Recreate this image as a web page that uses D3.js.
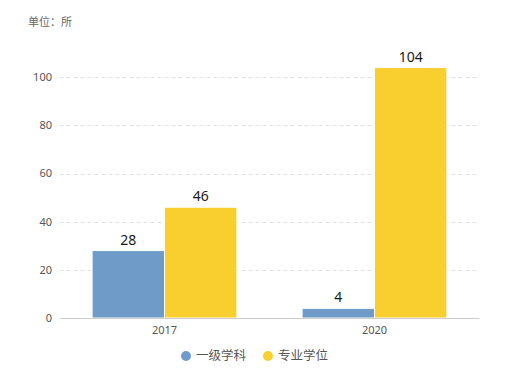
<!DOCTYPE html>
<html><head><meta charset="utf-8">
<script src="https://cdn.jsdelivr.net/npm/d3@7"></script>
<style>body{margin:0;background:#fff;}svg{display:block;font-family:"Noto Sans","Noto Sans CJK SC",sans-serif;}</style>
</head><body>
<svg id="c" width="511" height="383"></svg>
<script>
const categories = ["2017", "2020"];
const seriesNames = ["一级学科", "专业学位"];
const firstLevel = [28, 4];
const professional = [46, 104];
const yTicks = [0, 20, 40, 60, 80, 100];
const unitLabel = "单位：所";
const colors = ["#6f9bc8", "#f9cf2f"];

(function () {
const svg = d3.select("#c");
const mLeft = 59.5, mRight = 479.5, mTop = 29, mBottom = 318;
const x = d3.scaleBand().domain(categories).range([mLeft, mRight]).paddingInner(0).paddingOuter(0);
const y = d3.scaleLinear().domain([0, 120]).range([mBottom, mTop]);
const x1 = d3.scaleBand().domain(seriesNames).range([0, x.bandwidth()]).paddingInner(0.0).paddingOuter(0.45);

svg.append("text").attr("x", 28).attr("y", 26).attr("font-size", 11).attr("fill", "#666").text(unitLabel);

// grid
svg.append("g").selectAll("line").data(yTicks.filter(d => d > 0)).join("line")
  .attr("x1", mLeft).attr("x2", mRight)
  .attr("y1", d => Math.round(y(d)) + 0.5).attr("y2", d => Math.round(y(d)) + 0.5)
  .attr("stroke", "#e3e3e3").attr("stroke-dasharray", "4,3");

// y labels
svg.append("g").selectAll("text").data(yTicks).join("text")
  .attr("x", 52).attr("y", d => y(d)).attr("dy", "0.35em")
  .attr("text-anchor", "end").attr("font-size", 11).attr("fill", "#555").text(d => d);

const data = categories.map((c, i) => ({c, vals: [firstLevel[i], professional[i]]}));
const groups = svg.append("g").selectAll("g").data(data).join("g")
  .attr("transform", d => `translate(${x(d.c)},0)`);
groups.selectAll("rect").data(d => d.vals.map((v, j) => ({v, j}))).join("rect")
  .attr("x", d => x1(seriesNames[d.j]))
  .attr("width", x1.bandwidth())
  .attr("y", d => y(d.v)).attr("height", d => mBottom - y(d.v))
  .attr("fill", d => colors[d.j]).attr("stroke", "#fff").attr("stroke-width", 1);
groups.selectAll("text").data(d => d.vals.map((v, j) => ({v, j}))).join("text")
  .attr("x", d => x1(seriesNames[d.j]) + x1.bandwidth() / 2)
  .attr("y", d => y(d.v) - 6)
  .attr("text-anchor", "middle").attr("font-size", 14).attr("fill", "#1a1a1a").text(d => d.v);

// x axis
svg.append("line").attr("x1", mLeft).attr("x2", mRight).attr("y1", mBottom + 0.5).attr("y2", mBottom + 0.5).attr("stroke", "#ccc");
svg.append("g").selectAll("text").data(categories).join("text")
  .attr("x", d => x(d) + x.bandwidth() / 2).attr("y", 334)
  .attr("text-anchor", "middle").attr("font-size", 11).attr("fill", "#555").text(d => d);

// legend
const legX = [186, 268];
const leg = svg.append("g").selectAll("g").data(seriesNames).join("g")
  .attr("transform", (d, i) => `translate(${legX[i]},356)`);
leg.append("circle").attr("r", 5).attr("fill", (d, i) => colors[i]);
leg.append("text").attr("x", 10).attr("dy", "0.35em").attr("font-size", 12.5).attr("fill", "#555").text(d => d);
})();
</script>
</body></html>
